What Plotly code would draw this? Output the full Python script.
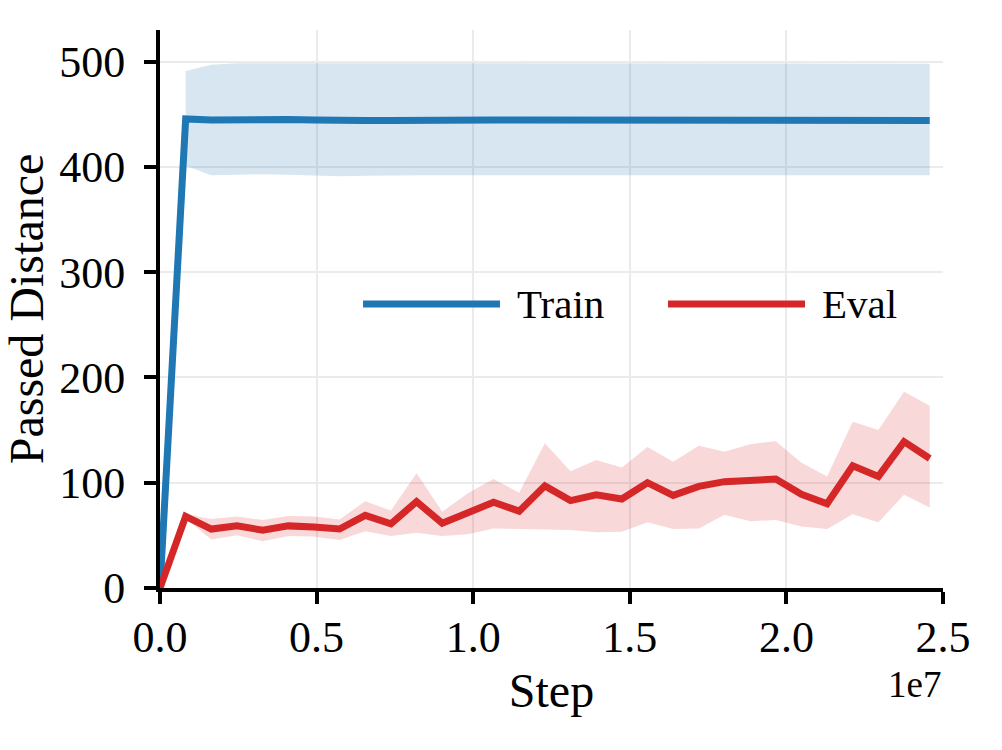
import plotly.graph_objects as go

steps = [0, 819200, 1638400, 2457600, 3276800, 4096000, 4915200, 5734400, 6553600,
         7372800, 8192000, 9011200, 9830400, 10649600, 11468800, 12288000, 13107200,
         13926400, 14745600, 15564800, 16384000, 17203200, 18022400, 18841600,
         19660800, 20480000, 21299200, 22118400, 22937600, 23756800, 24576000]

train_mean = [0, 445.5, 444.5, 445, 445.5, 445, 444.5, 443.5, 444, 444, 444.5, 444,
              444.5, 444.5, 444.5, 444.5, 444, 443.5, 444, 444, 443.5, 443.5, 444, 444,
              444, 444, 443.5, 443.5, 444, 444, 444]
train_upper = [0, 491, 497, 498.5, 498.5, 498.5, 498, 498, 498, 498, 498, 498, 498,
               498, 498, 498, 498, 498, 498, 498, 498, 498, 498, 498, 498, 498, 498,
               498, 498, 498, 498]
train_lower = [0, 401, 392, 392.5, 393, 392.5, 392, 391, 391.5, 392, 392, 392, 392,
               392, 392, 392, 392, 391.5, 392, 392, 392, 392, 392, 392, 392, 392,
               391.5, 391.5, 392, 392, 392]

eval_mean = [0, 68, 56, 59, 55, 59, 58, 56, 69, 61, 82, 61.5, 71.5, 81.5, 73, 97, 83,
             88.5, 84.5, 100, 88, 96.5, 101, 101.5, 103.5, 89, 80, 116, 106, 139, 123]
eval_upper = [0, 70, 65.5, 68, 64.5, 68.5, 68, 65, 82.5, 73.5, 109, 72.5, 90, 103.5,
              90.5, 137.5, 111, 121.5, 114.5, 134, 120, 135, 129.5, 136.5, 139.5, 119,
              106, 158, 150, 186.5, 173]
eval_lower = [0, 66, 46, 50, 44.5, 49.5, 49, 45.5, 54, 49.5, 52.5, 49.5, 51, 56.5, 56,
              56, 55, 53, 53.5, 62.5, 56, 56.5, 69.5, 63.5, 64.5, 58.5, 56, 70, 62.5,
              88.5, 76.5]

x_tickvals = [0, 5e6, 1e7, 1.5e7, 2e7, 2.5e7]
x_ticktext = ["0.0", "0.5", "1.0", "1.5", "2.0", "2.5"]
y_tickvals = [0, 100, 200, 300, 400, 500]
series_names = ["Train", "Eval"]

BLUE = "#1f77b4"
RED = "#d62728"
FONT = "Liberation Serif"

fig = go.Figure()

for mean, up, lo, color, fillc, name in [
    (train_mean, train_upper, train_lower, BLUE, "rgba(31,119,180,0.18)", series_names[0]),
    (eval_mean, eval_upper, eval_lower, RED, "rgba(214,39,40,0.18)", series_names[1]),
]:
    fig.add_trace(go.Scatter(x=steps[1:], y=up[1:], mode="lines",
                             line=dict(width=0, color=fillc), showlegend=False,
                             hoverinfo="skip"))
    fig.add_trace(go.Scatter(x=steps[1:], y=lo[1:], mode="lines", fill="tonexty",
                             fillcolor=fillc, line=dict(width=0, color=fillc),
                             showlegend=False, hoverinfo="skip"))

fig.add_trace(go.Scatter(x=steps, y=train_mean, mode="lines", name=series_names[0],
                         line=dict(color=BLUE, width=7), showlegend=False))
fig.add_trace(go.Scatter(x=steps, y=eval_mean, mode="lines", name=series_names[1],
                         line=dict(color=RED, width=7), showlegend=False))

# manual legend (long line samples)
leg_y = 0.509
for (x0, x1, tx, color, name) in [(0.2593, 0.4342, 0.4530, BLUE, series_names[0]),
                                  (0.6488, 0.8238, 0.8430, RED, series_names[1])]:
    fig.add_shape(type="line", xref="paper", yref="paper", x0=x0, x1=x1,
                  y0=leg_y, y1=leg_y, line=dict(color=color, width=7))
    fig.add_annotation(xref="paper", yref="paper", x=tx, y=leg_y, text=name,
                       showarrow=False, xanchor="left", yanchor="middle",
                       font=dict(family=FONT, size=41, color="black"))

fig.add_annotation(xref="paper", yref="paper", x=1.0, y=-0.173, text="1e7",
                   showarrow=False, xanchor="right", yanchor="middle",
                   font=dict(family=FONT, size=37, color="black"))

fig.update_layout(
    width=1002, height=750,
    margin=dict(l=160, r=59, t=30, b=162),
    paper_bgcolor="white", plot_bgcolor="white",
    font=dict(family=FONT, size=44, color="black"),
    showlegend=False,
)
fig.update_xaxes(
    range=[0, 2.5e7], tickvals=x_tickvals, ticktext=x_ticktext,
    tickfont=dict(family=FONT, size=44, color="black"),
    showline=True, linecolor="black", linewidth=4,
    ticks="outside", ticklen=12, tickwidth=3.5, tickcolor="black",
    showgrid=True, gridcolor="#ebebeb", gridwidth=2, zeroline=False,
    title=dict(text="Step", font=dict(family=FONT, size=48, color="black"), standoff=14),
    ticklabelstandoff=-5, automargin=False,
)
fig.update_yaxes(
    range=[0, 530], tickvals=y_tickvals,
    tickfont=dict(family=FONT, size=44, color="black"),
    showline=True, linecolor="black", linewidth=4,
    ticks="outside", ticklen=12, tickwidth=3.5, tickcolor="black",
    showgrid=True, gridcolor="#ebebeb", gridwidth=2, zeroline=False,
    title=dict(text="Passed Distance", font=dict(family=FONT, size=48, color="black"), standoff=16),
    ticklabelstandoff=10, automargin=False,
)

fig.write_html("out.html")
